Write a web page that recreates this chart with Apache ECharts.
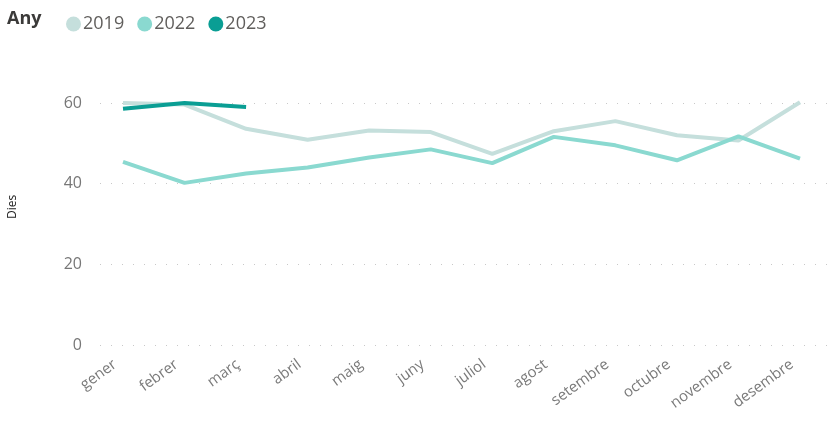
<!DOCTYPE html>
<html>
<head>
<meta charset="utf-8">
<script src="https://cdn.jsdelivr.net/npm/echarts@6/dist/echarts.min.js"></script>
<style>
  html, body { margin: 0; padding: 0; background: #fff; }
  #chart { width: 828px; height: 421px; }
</style>
</head>
<body>
<div id="chart"></div>
<script>
// mesos
const months = ['gener', 'febrer', 'març', 'abril', 'maig', 'juny', 'juliol', 'agost', 'setembre', 'octubre', 'novembre', 'desembre']
// dies per any
const dies2019 = [60.0, 59.6, 53.6, 50.9, 53.2, 52.8, 47.4, 53.0, 55.5, 52.0, 50.7, 60.2]
const dies2022 = [45.4, 40.2, 42.5, 44.0, 46.5, 48.5, 45.1, 51.6, 49.5, 45.8, 51.7, 46.2]
const dies2023 = [58.6, 60.0, 59.0]
const yTicks = [0, 20, 40, 60]

const font = '"Open Sans", "Noto Sans", sans-serif'
const chart = echarts.init(document.getElementById('chart'))

chart.setOption({
  animation: false,
  textStyle: { fontFamily: font },
  graphic: [
    {
      type: 'text', left: 7, top: 10,
      style: { text: 'Any', font: 'bold 18px ' + font, fill: '#3b3a39' }
    },
    {
      type: 'text', x: 7, y: 219, rotation: Math.PI / 2,
      style: { text: 'Dies', font: '12px ' + font, fill: '#222' }
    }
  ],
  legend: {
    left: 61, top: 10,
    icon: 'circle', itemWidth: 15, itemHeight: 15, itemGap: 13,
    textStyle: { fontSize: 18, color: '#605e5c', padding: [0, 0, 0, -3] },
    data: ['2019', '2022', '2023']
  },
  grid: [
    // grid for the dotted gridlines and y labels
    { left: 100, right: 0, top: 103, bottom: 76 },
    // grid for the data
    { left: 123, right: 28, top: 103, bottom: 76 }
  ],
  xAxis: [
    { gridIndex: 0, type: 'category', data: months, show: false },
    {
      gridIndex: 1, type: 'category', data: months, boundaryGap: false,
      axisLine: { show: false }, axisTick: { show: false },
      axisLabel: { rotate: 36, fontSize: 15, color: '#7a7a7a', margin: 12, interval: 0, padding: [0, 10, 0, 0] }
    }
  ],
  yAxis: [
    {
      gridIndex: 0, type: 'value', min: yTicks[0], max: yTicks[yTicks.length - 1], interval: 20,
      axisLine: { show: false }, axisTick: { show: false },
      axisLabel: { fontSize: 16, color: '#777', margin: 18 },
      splitLine: { lineStyle: { type: [1, 10], color: '#c8c8c8', width: 1 } }
    },
    {
      gridIndex: 1, type: 'value', min: yTicks[0], max: yTicks[yTicks.length - 1], interval: 20,
      show: false, splitLine: { show: false }
    }
  ],
  series: [
    {
      name: '2019', type: 'line', xAxisIndex: 1, yAxisIndex: 1, data: dies2019,
      color: '#c5dfdc', showSymbol: false, clip: false, z: 2,
      lineStyle: { width: 4, color: '#c5dfdc' }
    },
    {
      name: '2022', type: 'line', xAxisIndex: 1, yAxisIndex: 1, data: dies2022,
      color: '#8ad9d0', showSymbol: false, clip: false, z: 3,
      lineStyle: { width: 4, color: '#8ad9d0' }
    },
    {
      name: '2023', type: 'line', xAxisIndex: 1, yAxisIndex: 1, data: dies2023,
      color: '#0a9e94', showSymbol: false, clip: false, z: 4,
      lineStyle: { width: 4, color: '#0a9e94' }
    }
  ]
})
</script>
</body>
</html>
